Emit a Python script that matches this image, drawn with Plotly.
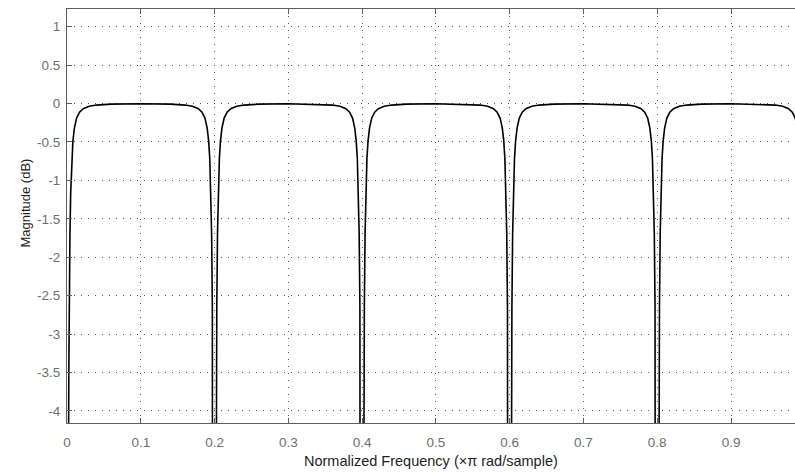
import plotly.graph_objects as go

# Magnitude response of a comb notch filter (notches every 0.2 x pi rad/sample)
freq = [
    0.0, 0.0005, 0.001, 0.0015, 0.002, 0.0025, 0.003, 0.004, 0.005, 0.0065, 0.008,
    0.010, 0.013, 0.017, 0.022, 0.030, 0.040, 0.060, 0.100,
    0.140, 0.160, 0.170, 0.178, 0.183, 0.187, 0.190, 0.192, 0.1935, 0.195, 0.196,
    0.197, 0.1975, 0.198, 0.1985, 0.199, 0.1995, 0.200, 0.2005, 0.201, 0.2015, 0.202,
    0.2025, 0.203, 0.204, 0.205, 0.2065, 0.208, 0.210, 0.213, 0.217, 0.222, 0.230,
    0.240, 0.260, 0.300,
    0.340, 0.360, 0.370, 0.378, 0.383, 0.387, 0.390, 0.392, 0.3935, 0.395, 0.396,
    0.397, 0.3975, 0.398, 0.3985, 0.399, 0.3995, 0.400, 0.4005, 0.401, 0.4015, 0.402,
    0.4025, 0.403, 0.404, 0.405, 0.4065, 0.408, 0.410, 0.413, 0.417, 0.422, 0.430,
    0.440, 0.460, 0.500,
    0.540, 0.560, 0.570, 0.578, 0.583, 0.587, 0.590, 0.592, 0.5935, 0.595, 0.596,
    0.597, 0.5975, 0.598, 0.5985, 0.599, 0.5995, 0.600, 0.6005, 0.601, 0.6015, 0.602,
    0.6025, 0.603, 0.604, 0.605, 0.6065, 0.608, 0.610, 0.613, 0.617, 0.622, 0.630,
    0.640, 0.660, 0.700,
    0.740, 0.760, 0.770, 0.778, 0.783, 0.787, 0.790, 0.792, 0.7935, 0.795, 0.796,
    0.797, 0.7975, 0.798, 0.7985, 0.799, 0.7995, 0.800, 0.8005, 0.801, 0.8015, 0.802,
    0.8025, 0.803, 0.804, 0.805, 0.8065, 0.808, 0.810, 0.813, 0.817, 0.822, 0.830,
    0.840, 0.860, 0.900,
    0.940, 0.960, 0.970, 0.978, 0.983, 0.987, 0.990,
]

mag_db = [
    -40.0, -15.0, -9.36, -6.42, -4.63, -3.46, -2.66, -1.69, -1.16, -0.72, -0.49,
    -0.32, -0.19, -0.113, -0.068, -0.037, -0.021, -0.009, -0.003,
    -0.009, -0.021, -0.037, -0.068, -0.113, -0.19, -0.32, -0.49, -0.72, -1.16, -1.69,
    -2.66, -3.46, -4.63, -6.42, -9.36, -15.0, -40.0, -15.0, -9.36, -6.42, -4.63,
    -3.46, -2.66, -1.69, -1.16, -0.72, -0.49, -0.32, -0.19, -0.113, -0.068, -0.037,
    -0.021, -0.009, -0.003,
    -0.009, -0.021, -0.037, -0.068, -0.113, -0.19, -0.32, -0.49, -0.72, -1.16, -1.69,
    -2.66, -3.46, -4.63, -6.42, -9.36, -15.0, -40.0, -15.0, -9.36, -6.42, -4.63,
    -3.46, -2.66, -1.69, -1.16, -0.72, -0.49, -0.32, -0.19, -0.113, -0.068, -0.037,
    -0.021, -0.009, -0.003,
    -0.009, -0.021, -0.037, -0.068, -0.113, -0.19, -0.32, -0.49, -0.72, -1.16, -1.69,
    -2.66, -3.46, -4.63, -6.42, -9.36, -15.0, -40.0, -15.0, -9.36, -6.42, -4.63,
    -3.46, -2.66, -1.69, -1.16, -0.72, -0.49, -0.32, -0.19, -0.113, -0.068, -0.037,
    -0.021, -0.009, -0.003,
    -0.009, -0.021, -0.037, -0.068, -0.113, -0.19, -0.32, -0.49, -0.72, -1.16, -1.69,
    -2.66, -3.46, -4.63, -6.42, -9.36, -15.0, -40.0, -15.0, -9.36, -6.42, -4.63,
    -3.46, -2.66, -1.69, -1.16, -0.72, -0.49, -0.32, -0.19, -0.113, -0.068, -0.037,
    -0.021, -0.009, -0.003,
    -0.009, -0.021, -0.037, -0.068, -0.113, -0.19, -0.32,
]

x_ticks = [0, 0.1, 0.2, 0.3, 0.4, 0.5, 0.6, 0.7, 0.8, 0.9]
x_tick_text = ["0", "0.1", "0.2", "0.3", "0.4", "0.5", "0.6", "0.7", "0.8", "0.9"]
y_ticks = [1, 0.5, 0, -0.5, -1, -1.5, -2, -2.5, -3, -3.5, -4]
y_tick_text = ["1", "0.5", "0", "-0.5", "-1", "-1.5", "-2", "-2.5", "-3", "-3.5", "-4"]

x_label = "Normalized Frequency (\u00d7\u03c0 rad/sample)"
y_label = "Magnitude (dB)"

AXIS_COLOR = "#5f5f5f"
GRID_COLOR = "#555555"
FAMILY = "Liberation Sans, Arial, sans-serif"
TICK_FONT = dict(family=FAMILY, size=13.5, color="#6e6e6e")
LABEL_FONT = dict(family=FAMILY, size=14.5, color="#1e1e1e")

fig = go.Figure()
fig.add_trace(go.Scatter(
    x=freq, y=mag_db, mode="lines",
    line=dict(color="#000000", width=1.6),
    hoverinfo="x+y", showlegend=False,
))

fig.update_layout(
    width=795, height=475,
    margin=dict(l=67, r=0, t=9, b=52),
    paper_bgcolor="white", plot_bgcolor="white",
    xaxis=dict(
        range=[0, 0.9867],
        tickmode="array", tickvals=x_ticks, ticktext=x_tick_text,
        ticks="inside", ticklen=5, tickwidth=1, tickcolor=AXIS_COLOR,
        showline=True, linecolor=AXIS_COLOR, linewidth=1, mirror="ticks",
        showgrid=True, gridcolor=GRID_COLOR, gridwidth=1, griddash="1px,6px",
        zeroline=False, tickfont=TICK_FONT, ticklabelstandoff=7,
    ),
    yaxis=dict(
        range=[-4.157, 1.229],
        tickmode="array", tickvals=y_ticks, ticktext=y_tick_text,
        ticks="inside", ticklen=5, tickwidth=1, tickcolor=AXIS_COLOR,
        showline=True, linecolor=AXIS_COLOR, linewidth=1, mirror=False,
        showgrid=True, gridcolor=GRID_COLOR, gridwidth=1, griddash="1px,6px",
        zeroline=False, tickfont=TICK_FONT, ticklabelstandoff=3,
    ),
    annotations=[
        dict(text=x_label, xref="paper", yref="paper", x=0.5, y=0,
             yshift=-28, yanchor="top", showarrow=False, font=LABEL_FONT),
        dict(text=y_label, xref="paper", yref="paper", x=0, y=0.5,
             xshift=-52, yshift=13, textangle=-90, showarrow=False,
             font=dict(family=FAMILY, size=13, color="#1e1e1e")),
    ],
)

fig.write_html("out.html")
